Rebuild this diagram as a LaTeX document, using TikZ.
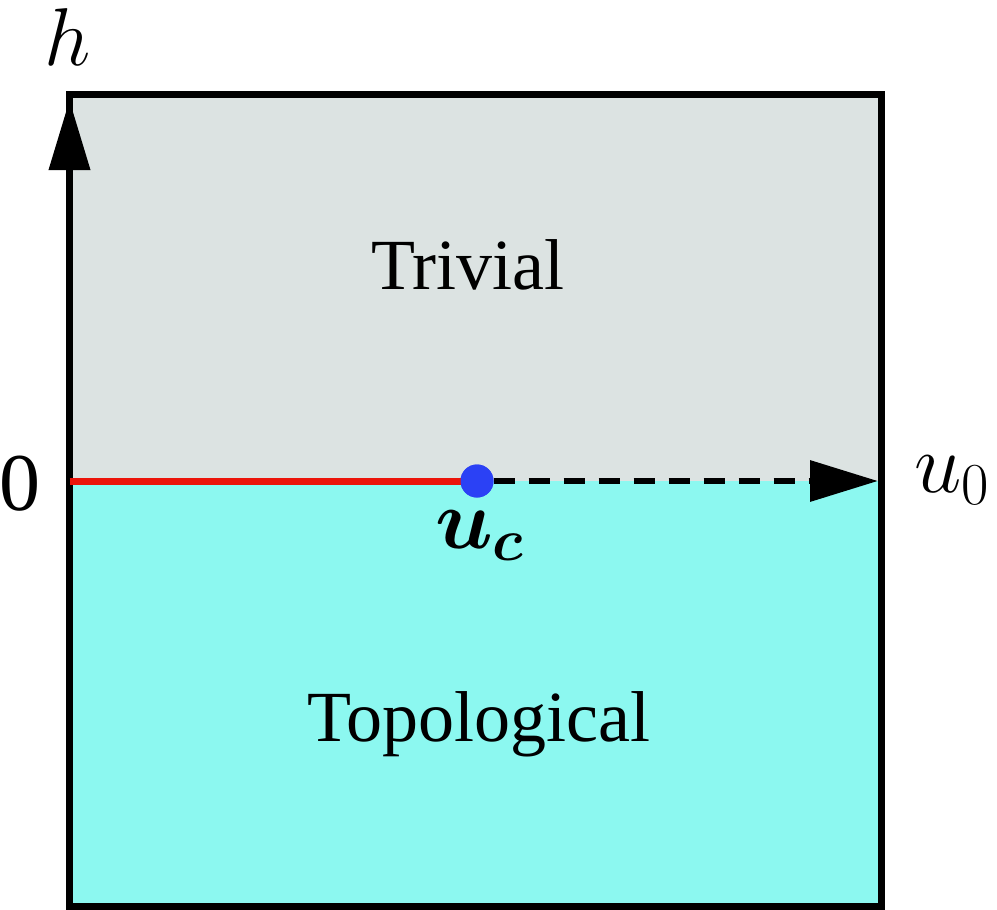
\RequirePackage{fix-cm}
\documentclass[tikz,border=0pt]{standalone}
\usepackage{bm}
\usepackage{fontspec}
\setmainfont{Liberation Serif}
\usetikzlibrary{arrows.meta}
\definecolor{trivgray}{RGB}{220,227,226}
\definecolor{topocyan}{RGB}{140,248,240}
\definecolor{linered}{RGB}{235,20,10}
\definecolor{dotblue}{RGB}{43,65,245}
\tikzset{
  lbl/.style={inner sep=0pt, outer sep=0pt},
  phasetext/.style={lbl, font=\fontsize{72}{80}\selectfont, anchor=base},
  mathlbl/.style={lbl, font=\fontsize{85}{90}\selectfont},
  axisline/.style={line width=7pt, black},
  critdot/.style={circle, fill=dotblue, minimum size=33pt, inner sep=0pt},
}
\begin{document}
\begin{tikzpicture}[x=1pt,y=-1pt]
\useasboundingbox (0,0) rectangle (997,910);
% regions
\fill[trivgray] (69.5,94) rectangle (881,481);
\fill[topocyan] (69.5,481) rectangle (881,906.5);
% coordinates
\coordinate (origin) at (69.5,481);
\coordinate (htip) at (69.5,100);
\coordinate (utip) at (878,481);
% frame
\draw[axisline, line join=miter] (69.5,94) rectangle (881,906.5);
% vertical axis arrow
\draw[axisline, -{Triangle[length=70pt,width=40pt]}] (origin) -- (htip);
% critical point
\node[critdot] (uc) at (477,481) {};
% red line
\draw[line width=7pt, linered] (origin) -- (uc.center);
% dashed part
\draw[line width=6.5pt, black, dash pattern=on 21pt off 14pt, -{Triangle[length=68pt,width=40pt]}] (uc.east) -- (utip);
\node[critdot] at (uc.center) {};
% labels
\node[phasetext] (triv) at (468,289) {Trivial};
\node[phasetext] (topo) at (478.5,741) {Topological};
\node[lbl, font=\fontsize{82}{90}\selectfont, anchor=base] (hl) at (68,65) {$h$};
\node[mathlbl, anchor=base west] (u0l) at (914,492) {$u_0$};
\node[mathlbl, anchor=base west] (ucl) at (435,548) {$\bm{u_c}$};
\node[lbl, font=\fontsize{82}{90}\selectfont, anchor=base] (zero) at (20,510) {0};
\end{tikzpicture}
\end{document}
